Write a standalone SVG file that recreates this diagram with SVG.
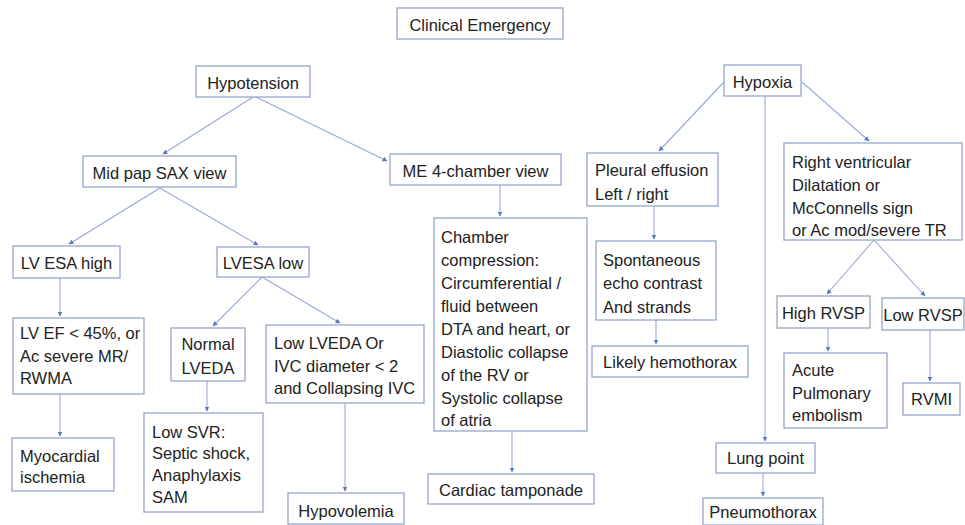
<svg xmlns="http://www.w3.org/2000/svg" width="965" height="525" viewBox="0 0 965 525">
<defs>
<marker id="ah" viewBox="0 0 10 10" refX="9" refY="5" markerWidth="5" markerHeight="5" markerUnits="userSpaceOnUse" orient="auto">
<path d="M0,0 L10,5 L0,10 z" fill="#5d78bd"/>
</marker>
<style>
.box{fill:#ffffff;stroke:#97a6cc;stroke-width:1.3}
.t{font-family:"Liberation Sans",Arial,sans-serif;font-size:16.5px;fill:#222222}
.c{text-anchor:middle}
.ln{fill:none;stroke:#98a9d6;stroke-width:1.1;marker-end:url(#ah)}
</style>
</defs>
<rect width="965" height="525" fill="#ffffff"/>

<g id="connectors">
<line class="ln" x1="253" y1="97" x2="163" y2="154"/>
<line class="ln" x1="256" y1="97" x2="387" y2="161"/>
<line class="ln" x1="160" y1="188" x2="69" y2="244"/>
<line class="ln" x1="160" y1="188" x2="258" y2="245"/>
<line class="ln" x1="60" y1="278" x2="60" y2="316"/>
<line class="ln" x1="60" y1="394" x2="60" y2="436"/>
<line class="ln" x1="262" y1="277" x2="213" y2="326"/>
<line class="ln" x1="262" y1="277" x2="340" y2="323"/>
<line class="ln" x1="207" y1="381" x2="207" y2="411"/>
<line class="ln" x1="345" y1="403" x2="345" y2="491"/>
<line class="ln" x1="500" y1="185" x2="500" y2="216"/>
<line class="ln" x1="512" y1="431" x2="512" y2="472"/>
<line class="ln" x1="724" y1="82" x2="659" y2="151"/>
<line class="ln" x1="765" y1="96" x2="765" y2="441"/>
<line class="ln" x1="802" y1="82" x2="869" y2="141"/>
<line class="ln" x1="654" y1="206" x2="654" y2="239"/>
<line class="ln" x1="656" y1="320" x2="656" y2="344"/>
<line class="ln" x1="874" y1="240" x2="827" y2="294"/>
<line class="ln" x1="874" y1="240" x2="925" y2="296"/>
<line class="ln" x1="828" y1="328" x2="828" y2="351"/>
<line class="ln" x1="930" y1="330" x2="930" y2="381"/>
<line class="ln" x1="763" y1="473" x2="763" y2="496"/>
</g>

<g id="clinical-emergency"><rect class="box" x="397" y="8" width="166" height="31"/><text class="t c" x="480" y="31">Clinical Emergency</text></g>
<g id="hypotension"><rect class="box" x="196" y="66" width="114" height="31"/><text class="t c" x="253" y="89">Hypotension</text></g>
<g id="hypoxia"><rect class="box" x="724" y="65" width="77" height="31"/><text class="t c" x="762.5" y="88">Hypoxia</text></g>
<g id="mid-pap"><rect class="box" x="83" y="156" width="153" height="31"/><text class="t c" x="159.5" y="179">Mid pap SAX view</text></g>
<g id="me4"><rect class="box" x="390" y="154" width="171" height="31"/><text class="t c" x="475.5" y="177">ME 4-chamber view</text></g>
<g id="pleural"><rect class="box" x="587" y="153" width="131" height="53"/><text class="t" x="595" y="176">Pleural effusion</text><text class="t" x="595" y="200">Left / right</text></g>
<g id="rv"><rect class="box" x="784" y="143" width="178" height="97"/>
<text class="t" x="792" y="168">Right ventricular</text><text class="t" x="792" y="191">Dilatation or</text><text class="t" x="792" y="214">McConnells sign</text><text class="t" x="792" y="236">or Ac mod/severe TR</text></g>
<g id="chamber"><rect class="box" x="434" y="218" width="153" height="213"/>
<text class="t" x="441" y="243">Chamber</text><text class="t" x="441" y="266">compression:</text><text class="t" x="441" y="289">Circumferential /</text><text class="t" x="441" y="312">fluid between</text><text class="t" x="441" y="335">DTA and heart, or</text><text class="t" x="441" y="358">Diastolic collapse</text><text class="t" x="441" y="381">of the RV or</text><text class="t" x="441" y="404">Systolic collapse</text><text class="t" x="441" y="426">of atria</text></g>
<g id="spontaneous"><rect class="box" x="596" y="241" width="120" height="79"/>
<text class="t" x="603" y="266">Spontaneous</text><text class="t" x="603" y="289">echo contrast</text><text class="t" x="603" y="313">And strands</text></g>
<g id="lv-esa-high"><rect class="box" x="13" y="246" width="107" height="32"/><text class="t c" x="66.5" y="269">LV ESA high</text></g>
<g id="lvesa-low"><rect class="box" x="217" y="247" width="92" height="30"/><text class="t c" x="263" y="269">LVESA low</text></g>
<g id="lv-ef"><rect class="box" x="13" y="318" width="131" height="76"/>
<text class="t" x="20" y="339">LV EF &lt; 45%, or</text><text class="t" x="20" y="362">Ac severe MR/</text><text class="t" x="20" y="384">RWMA</text></g>
<g id="normal-lveda"><rect class="box" x="171" y="328" width="74" height="53"/>
<text class="t c" x="208" y="350">Normal</text><text class="t c" x="208" y="374">LVEDA</text></g>
<g id="low-lveda"><rect class="box" x="266" y="325" width="158" height="78"/>
<text class="t" x="274" y="349">Low LVEDA Or</text><text class="t" x="274" y="372">IVC diameter &lt; 2</text><text class="t" x="274" y="394">and Collapsing IVC</text></g>
<g id="low-svr"><rect class="box" x="144" y="413" width="119" height="99"/>
<text class="t" x="152" y="438">Low SVR:</text><text class="t" x="152" y="459">Septic shock,</text><text class="t" x="152" y="481">Anaphylaxis</text><text class="t" x="152" y="503">SAM</text></g>
<g id="myocardial"><rect class="box" x="12" y="438" width="102" height="53"/>
<text class="t" x="20" y="462">Myocardial</text><text class="t" x="20" y="483">ischemia</text></g>
<g id="hypovolemia"><rect class="box" x="288" y="493" width="116" height="31"/><text class="t c" x="346" y="517">Hypovolemia</text></g>
<g id="cardiac-tamponade"><rect class="box" x="428" y="474" width="166" height="30"/><text class="t c" x="511" y="496">Cardiac tamponade</text></g>
<g id="hemothorax"><rect class="box" x="592" y="346" width="156" height="31"/><text class="t c" x="670" y="368">Likely hemothorax</text></g>
<g id="high-rvsp"><rect class="box" x="777" y="296" width="93" height="32"/><text class="t c" x="823.5" y="319">High RVSP</text></g>
<g id="low-rvsp"><rect class="box" x="882" y="298" width="82" height="32"/><text class="t c" x="923" y="321">Low RVSP</text></g>
<g id="acute-pe"><rect class="box" x="784" y="353" width="103" height="75"/>
<text class="t" x="792" y="376">Acute</text><text class="t" x="792" y="399">Pulmonary</text><text class="t" x="792" y="421">embolism</text></g>
<g id="rvmi"><rect class="box" x="903" y="383" width="57" height="32"/><text class="t c" x="931.5" y="405">RVMI</text></g>
<g id="lung-point"><rect class="box" x="716" y="443" width="99" height="30"/><text class="t c" x="765.5" y="464">Lung point</text></g>
<g id="pneumothorax"><rect class="box" x="703" y="498" width="120" height="27"/><text class="t c" x="763" y="518">Pneumothorax</text></g>
</svg>
